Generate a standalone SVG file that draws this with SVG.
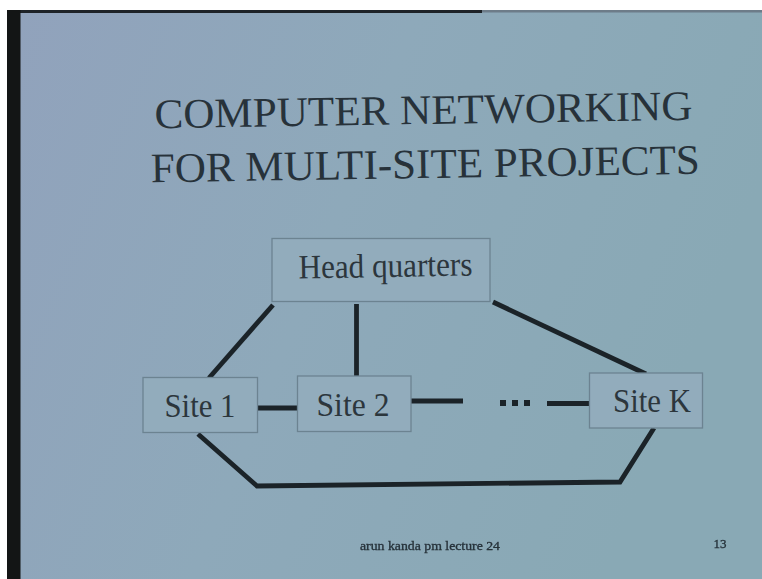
<svg xmlns="http://www.w3.org/2000/svg" width="762" height="579" viewBox="0 0 762 579">
  <defs>
    <linearGradient id="slideBg" x1="0" y1="0" x2="1" y2="0.3">
      <stop offset="0" stop-color="#91a2bc"/>
      <stop offset="0.5" stop-color="#8ea9ba"/>
      <stop offset="1" stop-color="#89a9b5"/>
    </linearGradient>
    <filter id="soft" x="-10%" y="-50%" width="120%" height="200%">
      <feGaussianBlur stdDeviation="0.7"/>
    </filter>
    <style>
      .title { font-family: "Liberation Serif", "Times New Roman", serif; font-size: 42px; fill: #27323a; text-anchor: middle; }
      .label { font-family: "Liberation Serif", "Times New Roman", serif; font-size: 34px; fill: #2c363c; text-anchor: middle; }
      .foot { font-family: "Liberation Serif", "Times New Roman", serif; font-size: 12px; fill: #26323a; stroke: #26323a; stroke-width: 0.3; text-anchor: middle; }
      .box { fill: #92acbc; stroke: #6c8391; stroke-width: 1.3; }
      .link { stroke: #1b2328; stroke-width: 4.8; fill: none; stroke-linecap: butt; stroke-linejoin: miter; }
    </style>
  </defs>

  <!-- page surround and slide -->
  <rect x="0" y="0" width="762" height="579" fill="#ffffff"/>
  <rect x="7" y="10" width="755" height="569" fill="url(#slideBg)"/>
  <rect x="482" y="10" width="280" height="2.5" fill="#6d7c89"/>
  <rect x="7" y="10" width="475" height="3" fill="#1e2328"/>
  <rect x="7" y="10" width="13.5" height="569" fill="#131515"/>

  <!-- title, slightly tilted with the slide -->
  <g transform="rotate(-0.9 424 147)">
    <text class="title" x="424" y="124" textLength="538" lengthAdjust="spacingAndGlyphs">COMPUTER NETWORKING</text>
    <text class="title" x="425" y="178" textLength="549" lengthAdjust="spacingAndGlyphs">FOR MULTI-SITE PROJECTS</text>
  </g>

  <!-- connectors -->
  <g id="connectors">
    <line class="link" x1="273" y1="305" x2="209" y2="378"/>
    <line class="link" x1="356.5" y1="304" x2="356.5" y2="377"/>
    <line class="link" x1="493" y1="302" x2="646" y2="374"/>
    <line class="link" x1="258" y1="408" x2="297" y2="408"/>
    <line class="link" x1="411" y1="401" x2="463" y2="401"/>
    <line class="link" x1="547" y1="403.5" x2="589" y2="403.5"/>
    <polyline class="link" points="198,434 257,486 620,482 654,428"/>
    <g fill="#1b2328">
      <rect x="500" y="400" width="6" height="6"/>
      <rect x="512" y="400" width="6" height="6"/>
      <rect x="524" y="400" width="6" height="6"/>
    </g>
  </g>

  <!-- nodes -->
  <g id="hq">
    <rect class="box" x="272" y="238.5" width="218" height="63"/>
    <text class="label" x="385.5" y="277" textLength="174" lengthAdjust="spacingAndGlyphs" transform="rotate(-1 385.5 270)">Head quarters</text>
  </g>
  <g id="site1">
    <rect class="box" x="143" y="377.5" width="114.5" height="55"/>
    <text class="label" x="200" y="417" textLength="71" lengthAdjust="spacingAndGlyphs">Site 1</text>
  </g>
  <g id="site2">
    <rect class="box" x="297.5" y="376" width="113.5" height="55.5"/>
    <text class="label" x="353" y="416" textLength="73" lengthAdjust="spacingAndGlyphs">Site 2</text>
  </g>
  <g id="siteK">
    <rect class="box" x="589.5" y="373" width="113" height="55"/>
    <text class="label" x="652" y="411.5" textLength="78" lengthAdjust="spacingAndGlyphs">Site K</text>
  </g>

  <!-- footer -->
  <g filter="url(#soft)">
    <text class="foot" x="430" y="550" textLength="140" lengthAdjust="spacingAndGlyphs">arun kanda pm lecture 24</text>
    <text class="foot" x="720" y="548" textLength="13" lengthAdjust="spacingAndGlyphs">13</text>
  </g>
</svg>
